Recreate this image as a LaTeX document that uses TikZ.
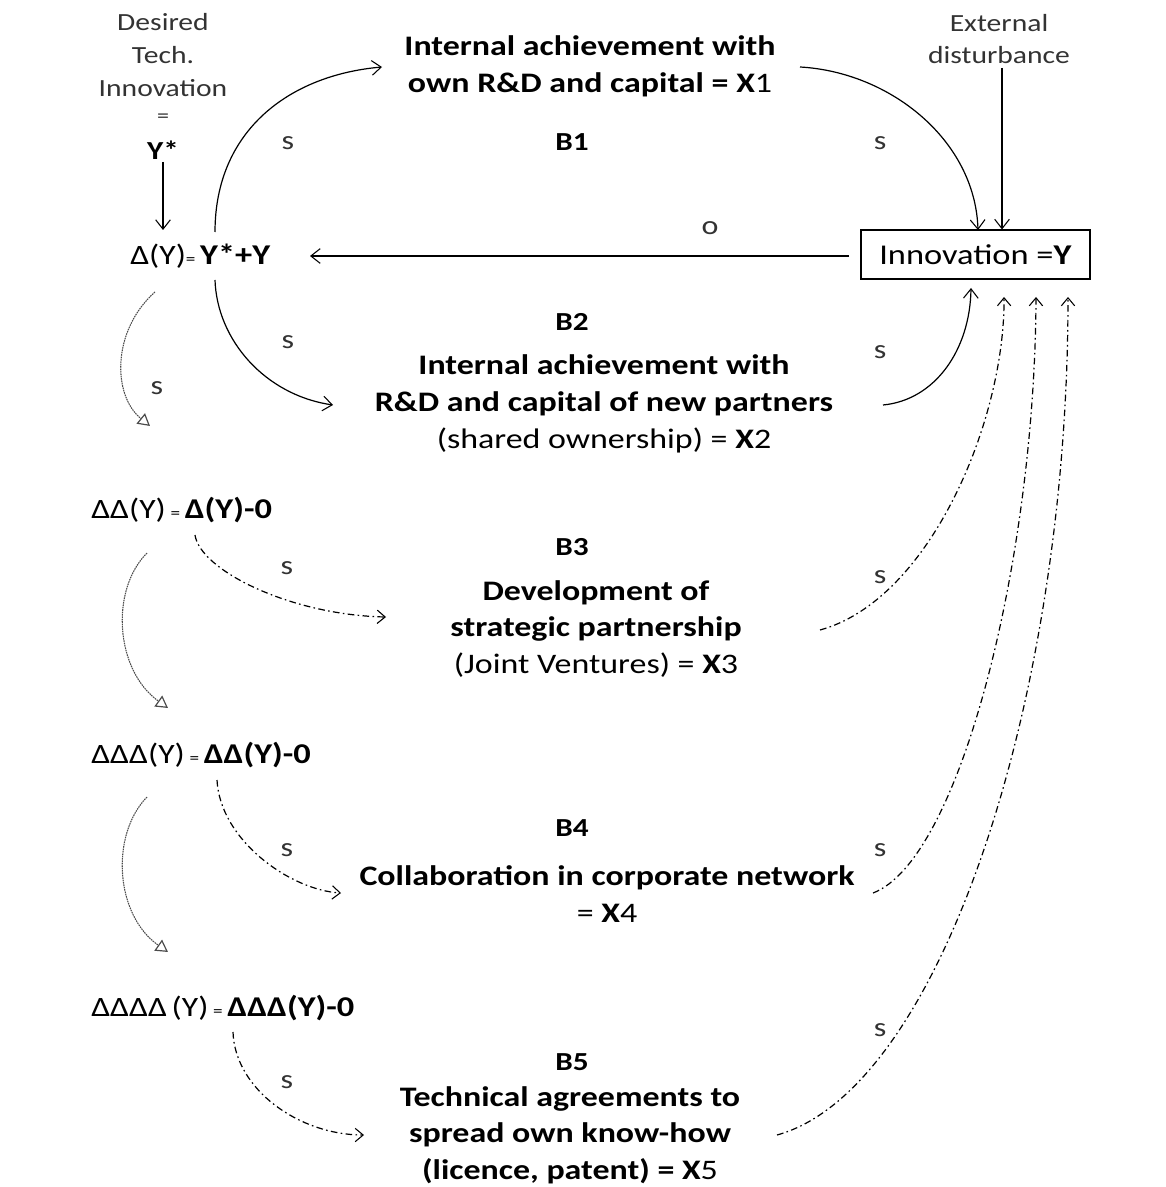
\documentclass[tikz,border=0pt]{standalone}
\usepackage{fontspec}
\setmainfont{Carlito}[FakeStretch=1.2]
\usetikzlibrary{arrows.meta}
\begin{document}
\begin{tikzpicture}[x=0.75pt,y=-0.75pt,
  title/.style={font=\fontsize{21.2}{27.5}\selectfont\bfseries, align=center, inner sep=0pt},
  lbl/.style={font=\fontsize{18.5}{24.5}\selectfont, text=black!80, align=center, inner sep=0pt},
  loop/.style={font=\fontsize{19.5}{20}\selectfont\bfseries, inner sep=0pt},
  sign/.style={font=\fontsize{20}{20}\selectfont, text=black!80, inner sep=0pt},
  eqn/.style={font=\fontsize{21}{24}\selectfont, anchor=west, inner sep=0pt},
  link/.style={line width=0.9pt, -{Straight Barb[length=7pt,width=11pt,line width=0.8pt]}},
  chain/.style={line width=0.8pt, black!70, dash pattern=on 1.2pt off 0.6pt,
     -{Triangle[open,length=9pt,width=10pt,line width=0.9pt]}},
  dashdot/.style={line width=0.9pt, dash pattern=on 5pt off 2.5pt on 1.2pt off 2.5pt,
     -{Straight Barb[length=6pt,width=10pt,line width=0.8pt]}},
]
\newcommand\smeq{{\fontsize{12}{12}\selectfont =}}
\newcommand\bigpart[1]{{\fontsize{21.5}{24}\selectfont\bfseries #1}}
\useasboundingbox (0,0) rectangle (1165,1187);

% left column: goal and discrepancy cascade
\node[lbl] (des) at (163,55) {Desired\\Tech.\\Innovation};
\node[lbl, font=\fontsize{15}{15}\selectfont] (deseq) at (163,118) {=};
\node[lbl, font=\fontsize{19.5}{22}\selectfont\bfseries, text=black] (ystar) at (163,150) {Y*};
\node[eqn] (d1) at (130,256) {Δ(Y)\smeq\,\bigpart{Y*+Y}};
\node[eqn] (d2) at (91,510) {ΔΔ(Y)\,\smeq\,\bigpart{Δ(Y)-0}};
\node[eqn] (d3) at (91,755) {ΔΔΔ(Y)\,\smeq\,\bigpart{ΔΔ(Y)-0}};
\node[eqn] (d4) at (91,1008) {ΔΔΔΔ\,(Y)\,\smeq\,\bigpart{ΔΔΔ(Y)-0}};

% right side: the controlled variable
\node[draw, line width=0.8pt, minimum width=171.75pt, minimum height=36.75pt,
      font=\fontsize{21.5}{24}\selectfont, inner sep=0pt] (inno) at (975.5,254.5)
      {Innovation =\textbf{Y}};
\node[lbl] (ext) at (999,39) {External\\disturbance};

% balancing loops
\node[title] (t1) at (590,66) {Internal achievement with\\own R\&D and capital = X{\mdseries 1}};
\node[loop] (b1) at (572,142) {B1};
\node[loop] (b2) at (572,322) {B2};
\node[title] (t2) at (604,404) {Internal achievement with\\R\&D and capital of new partners\\{\mdseries (shared ownership) =} X{\mdseries 2}};
\node[loop] (b3) at (572,547) {B3};
\node[title] (t3) at (596,629) {Development of\\strategic partnership\\{\mdseries (Joint Ventures) =} X{\mdseries 3}};
\node[loop] (b4) at (572,828) {B4};
\node[title] (t4) at (607,894) {Collaboration in corporate network\\{\mdseries =} X{\mdseries 4}};
\node[loop] (b5) at (572,1062) {B5};
\node[title] (t5) at (570,1135) {Technical agreements to\\spread own know-how\\(licence, patent) = X{\mdseries 5}};

% polarity labels
\node[sign] (s1a) at (288,143) {s};
\node[sign] (s1b) at (880,143) {s};
\node[sign] (o) at (710,228) {o};
\node[sign] (s2a) at (288,342) {s};
\node[sign] (s2b) at (880,352) {s};
\node[sign] (sc1) at (157,388) {s};
\node[sign] (s3a) at (287,568) {s};
\node[sign] (s3b) at (880,577) {s};
\node[sign] (s4a) at (287,850) {s};
\node[sign] (s4b) at (880,850) {s};
\node[sign] (s5a) at (287,1082) {s};
\node[sign] (s5b) at (880,1030) {s};

% end points of the connectors
\coordinate (ysb) at (163,162);
\coordinate (d1in) at (163,230);
\coordinate (extb) at (1002,68);
\coordinate (d1r) at (310,256);
\coordinate (innol) at (849,256);
\coordinate (d1u) at (215,232);
\coordinate (t1l) at (382,67);
\coordinate (t1r) at (800,67);
\coordinate (inno1) at (978,230);
\coordinate (d1d) at (215,280);
\coordinate (t2l) at (333,405);
\coordinate (t2r) at (883,405);
\coordinate (inno2) at (971,288);
\coordinate (d1c) at (155,292);
\coordinate (d2c) at (150,426);
\coordinate (d2s) at (147,553);
\coordinate (d3c) at (168,708);
\coordinate (d3s) at (147,797);
\coordinate (d4c) at (168,952);
\coordinate (d2d) at (195,535);
\coordinate (t3l) at (386,617);
\coordinate (t3r) at (820,630);
\coordinate (inno3) at (1004,297);
\coordinate (d3d) at (217,780);
\coordinate (t4l) at (341,893);
\coordinate (t4r) at (873,893);
\coordinate (inno4) at (1036,297);
\coordinate (d4d) at (233,1032);
\coordinate (t5l) at (364,1135);
\coordinate (t5r) at (777,1135);
\coordinate (inno5) at (1068,297);

% solid links
\draw[link] (ysb) -- (d1in);
\draw[link] (extb) -- (inno.north -| extb);
\draw[link] (innol) -- (d1r);
\draw[link] (d1u) .. controls (215,130) and (290,75) .. (t1l);
\draw[link] (t1r) .. controls (890,72) and (975,140) .. (inno1);
\draw[link] (d1d) .. controls (217,340) and (265,395) .. (t2l);
\draw[link] (t2r) .. controls (935,400) and (970,350) .. (inno2);

% cascade of discrepancies
\draw[chain] (d1c) .. controls (112,330) and (112,395) .. (d2c);
\draw[chain] (d2s) .. controls (110,590) and (115,670) .. (d3c);
\draw[chain] (d3s) .. controls (110,835) and (115,915) .. (d4c);

% external options
\draw[dashdot] (d2d) .. controls (200,570) and (290,615) .. (t3l);
\draw[dashdot] (t3r) .. controls (930,600) and (1005,420) .. (inno3);
\draw[dashdot] (d3d) .. controls (220,840) and (290,890) .. (t4l);
\draw[dashdot] (t4r) .. controls (960,860) and (1035,560) .. (inno4);
\draw[dashdot] (d4d) .. controls (235,1090) and (300,1135) .. (t5l);
\draw[dashdot] (t5r) .. controls (940,1090) and (1068,700) .. (inno5);
\end{tikzpicture}
\end{document}
